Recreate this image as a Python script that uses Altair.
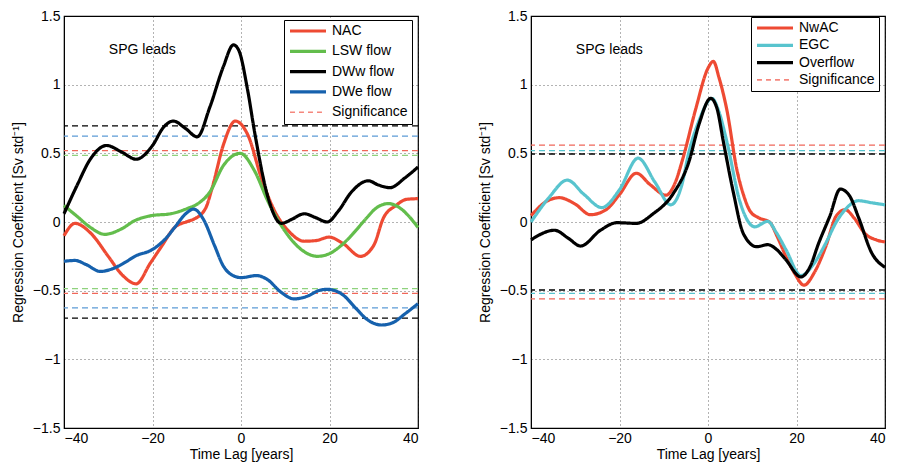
import altair as alt
import pandas as pd

# ---------------- left panel data ----------------
nac_x = [-40, -37.5, -34, -30, -27, -23.7, -20.5, -18, -15, -12, -10.7, -8, -6.5, -4, -1.3, 1.6, 4.6, 7.6, 10.6, 14.3, 17, 19.9, 23, 27, 30, 32.2, 35, 37.4, 40]
nac_y = [-0.10, -0.01, -0.08, -0.25, -0.38, -0.45, -0.30, -0.18, -0.04, 0.005, 0.02, 0.10, 0.25, 0.56, 0.735, 0.63, 0.32, 0.08, -0.06, -0.14, -0.135, -0.11, -0.155, -0.25, -0.17, 0.03, 0.12, 0.165, 0.17]

lsw_x = [-40, -37, -34, -30.8, -27, -24, -20.3, -15.9, -12, -9.9, -7, -4, -0.2, 3.1, 6.1, 9.8, 13.6, 17.3, 20, 23.2, 26, 28.4, 30.5, 33.3, 36, 38, 40]
lsw_y = [0.12, 0.04, -0.04, -0.09, -0.05, 0.01, 0.046, 0.06, 0.10, 0.13, 0.22, 0.41, 0.50, 0.37, 0.15, -0.06, -0.20, -0.25, -0.23, -0.155, -0.06, 0.03, 0.10, 0.134, 0.10, 0.04, -0.04]

dww_x = [-40, -37, -34, -30.4, -27, -23.7, -20, -17.5, -15.3, -12.5, -9.9, -7, -4, -1.7, -0.5, 1.5, 3.1, 6.1, 9.1, 11.5, 14.3, 17, 19.5, 22, 25, 28.8, 31, 33.7, 37, 40]
dww_y = [0.06, 0.27, 0.46, 0.557, 0.51, 0.457, 0.557, 0.69, 0.735, 0.68, 0.62, 0.84, 1.13, 1.29, 1.25, 0.96, 0.65, 0.18, -0.01, 0.02, 0.06, 0.03, 0.0, 0.08, 0.22, 0.30, 0.27, 0.25, 0.32, 0.40]

dwe_x = [-40, -37.5, -35, -31.8, -29, -26, -24, -20, -17, -15, -12.5, -10.7, -8.5, -6, -4, -1, 0, 3.5, 6, 9, 12, 15, 17.5, 19.5, 23, 26, 28.5, 31.8, 34.5, 37, 40]
dwe_y = [-0.286, -0.28, -0.31, -0.36, -0.34, -0.29, -0.25, -0.20, -0.12, -0.04, 0.06, 0.094, 0.02, -0.17, -0.32, -0.40, -0.405, -0.39, -0.42, -0.51, -0.56, -0.54, -0.50, -0.49, -0.53, -0.63, -0.71, -0.75, -0.73, -0.67, -0.595]

left_names = ["NAC", "LSW flow", "DWw flow", "DWe flow"]
left_colors = ["#EE4A33", "#63BD4C", "#000000", "#1661AD"]
left_sig = [0.52, 0.485, 0.70, 0.625]
left_sig_colors = ["#F0675A", "#8FD27D", "#000000", "#5C9BD6"]

# ---------------- right panel data ----------------
nwac_x = [-40, -36.5, -33.6, -30, -26.6, -23, -20, -16.2, -13, -9.5, -7.5, -5.7, -2.8, 0, 1.2, 2.5, 4.3, 6.5, 8, 9.5, 11.5, 13.9, 15.7, 17.6, 19.5, 21.7, 24, 26.6, 29, 31, 33, 35.5, 38, 40]
nwac_y = [0.046, 0.15, 0.177, 0.13, 0.053, 0.09, 0.20, 0.355, 0.27, 0.195, 0.28, 0.46, 0.82, 1.12, 1.17, 1.05, 0.81, 0.385, 0.20, 0.08, 0.03, 0.0, -0.11, -0.25, -0.37, -0.46, -0.37, -0.18, 0.045, 0.09, 0.03, -0.085, -0.13, -0.145]

egc_x = [-40, -36, -31.8, -28, -24, -20, -15.8, -12, -8.4, -6, -4.3, -2, 0.9, 2.5, 4.3, 7.2, 10.6, 13.5, 15.5, 17.6, 21, 24, 26.6, 29, 31, 34, 37, 40]
egc_y = [0.0, 0.175, 0.305, 0.20, 0.105, 0.235, 0.465, 0.29, 0.125, 0.26, 0.51, 0.74, 0.90, 0.80, 0.58, 0.15, -0.035, 0.005, -0.08, -0.20, -0.39, -0.30, -0.155, 0.0, 0.09, 0.155, 0.14, 0.125]

ovf_x = [-40, -34.7, -31.5, -28.8, -24.3, -20.6, -16.2, -12.4, -8, -4.3, -2, 0.6, 2, 3.5, 5.7, 8, 11, 13.5, 15.5, 17.6, 21, 23, 25, 27.5, 29.9, 32, 34, 37, 40]
ovf_y = [-0.13, -0.06, -0.12, -0.175, -0.06, -0.005, -0.01, 0.06, 0.20, 0.44, 0.715, 0.90, 0.83, 0.58, 0.22, -0.085, -0.18, -0.165, -0.20, -0.275, -0.40, -0.33, -0.155, 0.04, 0.24, 0.19, 0.035, -0.225, -0.33]

right_names = ["NwAC", "EGC", "Overflow"]
right_colors = ["#EE4A33", "#58C4CE", "#000000"]
right_sig = [0.56, 0.52, 0.495]
right_sig_colors = ["#F0675A", "#58C4CE", "#000000"]

sig_label = "Significance"
sig_legend_color = "#F5877D"
annot_text = ["SPG leads"]
annot_x = [-22.3]
annot_y = [1.25]

x_ticks = [-40, -20, 0, 20, 40]
y_ticks = [-1.5, -1, -0.5, 0, 0.5, 1, 1.5]

FONT = "Liberation Sans"
MINUS = "replace(datum.label, '-', '\u2212')"


def lines_frame(names, xs, ys):
    rows = []
    for n, xv, yv in zip(names, xs, ys):
        for a, b in zip(xv, yv):
            rows.append({"series": n, "lag": a, "coef": b})
    return pd.DataFrame(rows)


def sig_frame(names, sig):
    rows = []
    for n, s in zip(names, sig):
        rows.append({"sig": n, "level": s})
        rows.append({"sig": n, "level": -s})
    return pd.DataFrame(rows)


def panel(names, xs, ys, colors, sig, sig_colors, lx, ly, rowpad):
    df = lines_frame(names, xs, ys)
    sdf = sig_frame(names, sig)
    xscale = alt.Scale(domain=[-40, 40], nice=False)
    yscale = alt.Scale(domain=[-1.5, 1.5], nice=False)
    xaxis = alt.Axis(values=x_ticks, title="Time Lag [years]", format="d", labelExpr=MINUS)
    yaxis = alt.Axis(values=y_ticks, title="Regression Coefficient [Sv std\u207b\u00b9]", format="~g", labelExpr=MINUS)

    dom = names + [sig_label]
    legend = alt.Legend(
        orient="none", legendX=lx, legendY=ly, title=None,
        strokeColor="black", fillColor="white", padding=4,
        symbolType="stroke", symbolSize=1300,
        clipHeight=14, rowPadding=rowpad, labelFontSize=14, labelOffset=4,
        labelFont=FONT, labelColor="black", cornerRadius=0,
    )

    sig_layer = alt.Chart(sdf).mark_rule(strokeWidth=1.4, strokeDash=[6, 4]).encode(
        y=alt.Y("level:Q", scale=yscale, axis=yaxis),
        color=alt.Color("sig:N", scale=alt.Scale(domain=names, range=sig_colors), legend=None),
    )

    line_layer = alt.Chart(df).mark_line(interpolate="monotone").encode(
        x=alt.X("lag:Q", scale=xscale, axis=xaxis),
        y=alt.Y("coef:Q", scale=yscale, axis=yaxis),
        color=alt.Color("series:N", scale=alt.Scale(domain=dom, range=colors + [sig_legend_color]), legend=legend),
        strokeDash=alt.StrokeDash("series:N", scale=alt.Scale(domain=dom, range=[[1, 0]] * len(names) + [[5, 4]]), legend=legend),
        strokeWidth=alt.StrokeWidth("series:N", scale=alt.Scale(type="ordinal", domain=dom, range=[3.2] * len(names) + [1.6]), legend=legend),
        detail="series:N",
    )

    text_layer = alt.Chart(pd.DataFrame({"t": annot_text, "x": annot_x, "y": annot_y})).mark_text(
        font=FONT, fontSize=14, color="black"
    ).encode(x=alt.X("x:Q", scale=xscale), y=alt.Y("y:Q", scale=yscale), text="t:N")

    return alt.layer(sig_layer, line_layer, text_layer).resolve_scale(
        color="independent", strokeDash="independent", strokeWidth="independent"
    ).properties(width=354, height=412)


left = panel(left_names, [nac_x, lsw_x, dww_x, dwe_x], [nac_y, lsw_y, dww_y, dwe_y],
             left_colors, left_sig, left_sig_colors, 220, 4, 6.3)
right = panel(right_names, [nwac_x, egc_x, ovf_x], [nwac_y, egc_y, ovf_y],
              right_colors, right_sig, right_sig_colors, 220, 1, 3.3)

chart = alt.hconcat(left, right, spacing=52).resolve_scale(
    color="independent", strokeDash="independent", strokeWidth="independent"
).resolve_legend(
    color="independent", strokeDash="independent", strokeWidth="independent"
).configure(
    font=FONT, padding={"left": 2, "top": 0, "right": 0, "bottom": 0}
).configure_view(
    stroke="black", strokeWidth=1.2
).configure_axis(
    grid=True, gridColor="#000000", gridDash=[1, 3], gridOpacity=0.6,
    domainColor="black", ticks=False, labelFontSize=14, titleFontSize=14,
    titleFontWeight="normal", labelColor="black", titleColor="black",
    labelFont=FONT, titleFont=FONT, labelPadding=4,
).configure_axisX(labelPadding=3, titlePadding=2).configure_axisY(titlePadding=7)

chart.save("out.html", embed_options={"renderer": "svg", "actions": False})
